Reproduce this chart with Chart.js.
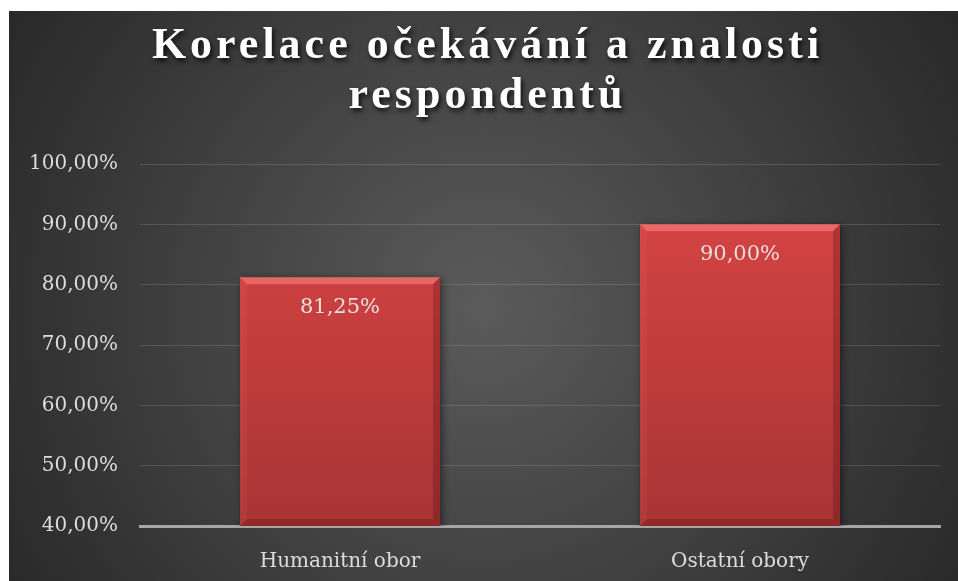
<!DOCTYPE html>
<html>
<head>
<meta charset="utf-8">
<script src="https://cdn.jsdelivr.net/npm/chart.js@4.4.1/dist/chart.umd.min.js"></script>
<style>
  body { margin: 0; background: #fff; }
  #wrap { position: absolute; left: 9px; top: 11px; width: 949px; height: 570px; }
</style>
</head>
<body>
<div id="wrap"><canvas id="chart" width="949" height="570"></canvas></div>
<script>
const titleLines = ['Korelace očekávání a znalosti', 'respondentů'];
const categories = ['Humanitní obor', 'Ostatní obory'];
const values = [81.25, 90.00];
const yMin = 40;
const yMax = 100;
const yStep = 10;

const textColor = '#dcdcdc';
const serif = "'DejaVu Serif', serif";

function pct(v) {
    return v.toFixed(2).replace('.', ',') + '%';
}

// dark radial background like the office theme
const backgroundPlugin = {
    id: 'bg',
    beforeDraw(chart) {
        const ctx = chart.ctx;
        const w = chart.width, h = chart.height;
        const g = ctx.createRadialGradient(w * 0.5, h * 0.52, 10, w * 0.5, h * 0.52, w * 0.62);
        g.addColorStop(0, '#5a5a5a');
        g.addColorStop(1, '#262626');
        ctx.save();
        ctx.fillStyle = g;
        ctx.fillRect(0, 0, w, h);
        ctx.restore();
    }
};

// shadow under bars, then bevel + value labels on top
const barPlugin = {
    id: 'bars',
    beforeDatasetsDraw(chart) {
        const ctx = chart.ctx;
        ctx.save();
        ctx.shadowColor = 'rgba(0,0,0,0.5)';
        ctx.shadowBlur = 8;
        ctx.shadowOffsetX = 2;
        ctx.shadowOffsetY = 2;
    },
    afterDatasetsDraw(chart) {
        const ctx = chart.ctx;
        ctx.restore();
        const meta = chart.getDatasetMeta(0);
        const bottom = chart.chartArea.bottom;
        meta.data.forEach((bar, i) => {
            const l = bar.x - bar.width / 2, r = bar.x + bar.width / 2;
            const t = bar.y, b = Math.min(bar.base, bottom);
            const bv = 7;
            ctx.save();
            // top bevel
            ctx.fillStyle = 'rgba(255,140,140,0.5)';
            ctx.beginPath();
            ctx.moveTo(l, t); ctx.lineTo(r, t); ctx.lineTo(r - bv, t + bv); ctx.lineTo(l + bv, t + bv);
            ctx.closePath(); ctx.fill();
            // left bevel
            ctx.fillStyle = 'rgba(255,120,120,0.10)';
            ctx.beginPath();
            ctx.moveTo(l, t); ctx.lineTo(l + bv, t + bv); ctx.lineTo(l + bv, b - bv); ctx.lineTo(l, b);
            ctx.closePath(); ctx.fill();
            // right bevel
            ctx.fillStyle = 'rgba(60,0,0,0.22)';
            ctx.beginPath();
            ctx.moveTo(r, t); ctx.lineTo(r - bv, t + bv); ctx.lineTo(r - bv, b - bv); ctx.lineTo(r, b);
            ctx.closePath(); ctx.fill();
            // bottom bevel
            ctx.fillStyle = 'rgba(60,0,0,0.2)';
            ctx.beginPath();
            ctx.moveTo(l, b); ctx.lineTo(r, b); ctx.lineTo(r - bv, b - bv); ctx.lineTo(l + bv, b - bv);
            ctx.closePath(); ctx.fill();
            // value label
            ctx.fillStyle = '#e8dede';
            ctx.font = '21px ' + serif;
            ctx.textAlign = 'center';
            ctx.textBaseline = 'middle';
            ctx.fillText(pct(values[i]), bar.x, t + 30);
            ctx.restore();
        });
    },
    afterDraw(chart) {
        const ctx = chart.ctx;
        ctx.save();
        ctx.font = "bold 44px 'Liberation Serif', serif";
        ctx.letterSpacing = '4px';
        ctx.fillStyle = '#ffffff';
        ctx.textAlign = 'center';
        ctx.textBaseline = 'middle';
        ctx.shadowColor = 'rgba(0,0,0,0.8)';
        ctx.shadowBlur = 5;
        ctx.shadowOffsetX = 2;
        ctx.shadowOffsetY = 3;
        titleLines.forEach((line, i) => {
            ctx.fillText(line, chart.width / 2 + 4, 36 + i * 50);
        });
        ctx.restore();
    }
};

const data = {
    labels: categories,
    datasets: [{
        data: values,
        backgroundColor: (c) => {
            const area = c.chart.chartArea;
            if (!area) return '#c83c3c';
            const g = c.chart.ctx.createLinearGradient(0, area.top, 0, area.bottom);
            g.addColorStop(0, '#dc4646');
            g.addColorStop(1, '#a83434');
            return g;
        },
        borderWidth: 0,
        barPercentage: 0.5,
        categoryPercentage: 1
    }]
};

const config = {
    type: 'bar',
    data: data,
    plugins: [backgroundPlugin, barPlugin],
    options: {
        responsive: false,
        animation: false,
        layout: {
            padding: { top: 153, right: 18, bottom: 0, left: 0 }
        },
        plugins: {
            legend: { display: false },
            tooltip: { enabled: false }
        },
        scales: {
            x: {
                grid: { display: false },
                border: { color: '#a6a6a6', width: 3 },
                ticks: {
                    color: textColor,
                    font: { family: serif, size: 20 },
                    padding: 16
                },
                afterFit(scale) { scale.height = 55; }
            },
            y: {
                min: yMin,
                max: yMax,
                border: { display: false },
                grid: { color: 'rgba(255,255,255,0.13)', lineWidth: 1, drawTicks: false },
                ticks: {
                    stepSize: yStep,
                    color: textColor,
                    font: { family: serif, size: 20 },
                    padding: 22,
                    callback: (v) => pct(v)
                },
                afterFit(scale) { scale.width = 131; }
            }
        }
    }
};

const chart = new Chart(document.getElementById('chart'), config);
</script>
</body>
</html>
